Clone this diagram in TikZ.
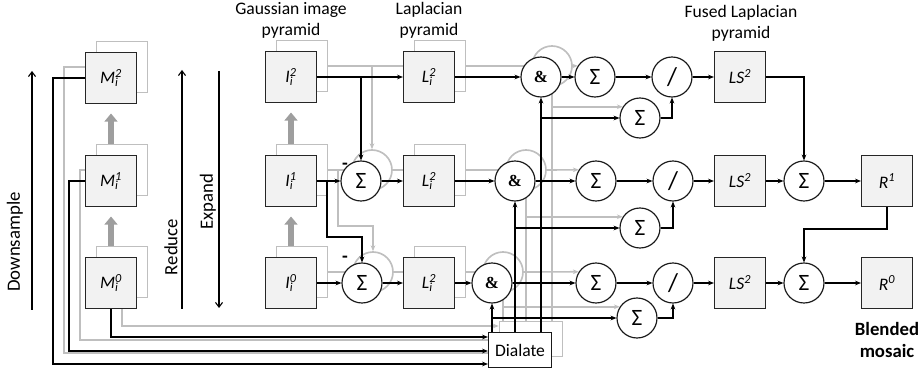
\documentclass[tikz,border=0pt]{standalone}
\usepackage{fontspec}
\setmainfont{Carlito}
\newfontfamily\ampfont{Liberation Serif}
\usetikzlibrary{arrows.meta}

\newcommand\pyr[2]{\textit{#1}\rlap{\textsubscript{\textit{i}}}\textsuperscript{\textit{#2}}}
\newcommand\sgm{{\fontsize{20}{20}\selectfont Σ}}

\tikzset{
  lbl/.style={font=\fontsize{15}{18}\selectfont, align=center},
  blk/.style={draw=black!85, fill=gray!10, line width=1pt, minimum size=1.53cm, inner sep=0pt, font=\fontsize{15}{16}\selectfont},
  op/.style={circle, draw=black!90, fill=white, line width=1pt, minimum size=1.2cm, inner sep=0pt},
  sblk/.style={draw=black!25, fill=white, line width=1.4pt, minimum size=1.53cm, inner sep=0pt},
  sop/.style={circle, draw=black!25, fill=white, line width=1.4pt, minimum size=1.2cm, inner sep=0pt},
  con/.style={line width=1pt, -{Stealth[length=5pt,width=4pt]}},
  scon/.style={draw=black!25, line width=1.4pt, -{Stealth[length=5pt,width=4pt]}},
  fat/.style={draw=black!38, line width=5pt, -{Triangle[length=7pt,width=11pt]}, shorten >=8pt},
  dirarr/.style={line width=0.9pt, -{Straight Barb[length=4pt,width=6pt]}},
}

\begin{document}
\begin{tikzpicture}[x=0.03cm,y=-0.03cm]
\useasboundingbox (0,0) rectangle (918,375);

% shadow copy (other images of the stack)
\begin{scope}[shift={(11,-11)}]
  \node[sblk] (sM2) at (111,78) {};
  \node[sblk] (sM1) at (111,181) {};
  \node[sblk] (sM0) at (111,283) {};
  \node[sblk] (sI2) at (291,77) {};
  \node[sblk] (sI1) at (291,181) {};
  \node[sblk] (sI0) at (291,283) {};
  \node[sop] (sS1) at (361,181) {};
  \node[sop] (sS0) at (362,283) {};
  \node[sblk] (sL2) at (429,77) {};
  \node[sblk] (sL1) at (429,181) {};
  \node[sblk] (sL0) at (429,283) {};
  \node[sop] (sA2) at (541,77) {};
  \node[sop] (sA1) at (515,181) {};
  \node[sop] (sA0) at (492,283) {};
  \node[sblk, minimum width=1.89cm, minimum height=1.05cm] (sDil) at (520,350) {};
  \coordinate (sj1) at (327,181);
  \draw[scon] (sI2.east) -- (sL2.west);
  \draw[scon] (sS1 |- sI2) -- (sS1.north);
  \draw[scon] (sI1.east) -- (sS1.west);
  \draw[scon] (sj1) |- (sS0.north |- 0,237) -- (sS0.north);
  \draw[scon] (sI0.east) -- (sS0.west);
  \draw[scon] (sS1.east) -- (sL1.west);
  \draw[scon] (sS0.east) -- (sL0.west);
  \draw[scon] (sL2.east) -- (sA2.west);
  \draw[scon] (sL1.east) -- (sA1.west);
  \draw[scon] (sL0.east) -- (sA0.west);
  \draw[scon] (sDil.north -| sA2.south) -- (sA2.south);
  \draw[scon] (sDil.north -| sA1.south) -- (sA1.south);
  \draw[scon] (sDil.north -| sA0.south) -- (sA0.south);
  \draw[scon] (sM2.west) -| (53,364) -- (sDil.west |- 0,364);
  \draw[scon] (sM1.west) -| (69,351) -- (sDil.west |- 0,351);
  \draw[scon] (sM0.south) |- (sDil.west |- 0,337);
\end{scope}

% titles
\node[lbl] (tG) at (291,20) {Gaussian image\\pyramid};
\node[lbl] (tL) at (429,20) {Laplacian\\pyramid};
\node[lbl] (tF) at (741,23) {Fused Laplacian\\pyramid};
\node[lbl, font=\fontsize{16}{18}\bfseries] (tB) at (887,340) {Blended\\mosaic};
\node[lbl, rotate=90, font=\fontsize{16}{18}\selectfont] (tD) at (15,242) {Downsample};
\node[lbl, rotate=90, font=\fontsize{16}{18}\selectfont] (tR) at (171,247) {Reduce};
\node[lbl, rotate=90, font=\fontsize{16}{18}\selectfont] (tE) at (208,202) {Expand};
\coordinate (ds0) at (32,310);
\coordinate (ds1) at (32,71);
\coordinate (rd0) at (182,309);
\coordinate (rd1) at (182,70);
\coordinate (ex0) at (219,71);
\coordinate (ex1) at (219,308);
\draw[dirarr] (ds0) -- (ds1);
\draw[dirarr] (rd0) -- (rd1);
\draw[dirarr] (ex0) -- (ex1);

% front pyramids
\node[blk] (M2) at (111,78) {\pyr{M}{2}};
\node[blk] (M1) at (111,181) {\pyr{M}{1}};
\node[blk] (M0) at (111,283) {\pyr{M}{0}};
\node[blk] (I2) at (291,77) {\pyr{I}{2}};
\node[blk] (I1) at (291,181) {\pyr{I}{1}};
\node[blk] (I0) at (291,283) {\pyr{I}{0}};
\node[op] (S1) at (361,181) {\sgm};
\node[op] (S0) at (362,283) {\sgm};
\node[blk] (L2) at (429,77) {\pyr{L}{2}};
\node[blk] (L1) at (429,181) {\pyr{L}{2}};
\node[blk] (L0) at (429,283) {\pyr{L}{2}};
\node[op] (A2) at (541,77) {\ampfont\bfseries\Large\&};
\node[op] (A1) at (515,181) {\ampfont\bfseries\Large\&};
\node[op] (A0) at (492,283) {\ampfont\bfseries\Large\&};
\node[op] (Q2) at (595,77) {\sgm};
\node[op] (Q1) at (596,181) {\sgm};
\node[op] (Q0) at (596,283) {\sgm};
\node[op] (W2) at (640,118) {\sgm};
\node[op] (W1) at (640,228) {\sgm};
\node[op] (W0) at (637,318) {\sgm};
\node[op] (D2) at (672,77) {\fontsize{22}{22}\selectfont /};
\node[op] (D1) at (673,181) {\fontsize{22}{22}\selectfont /};
\node[op] (D0) at (673,283) {\fontsize{22}{22}\selectfont /};
\node[blk] (LS2) at (740,77) {\textit{LS}\textsuperscript{\textit{2}}};
\node[blk] (LS1) at (740,181) {\textit{LS}\textsuperscript{\textit{2}}};
\node[blk] (LS0) at (740,283) {\textit{LS}\textsuperscript{\textit{2}}};
\node[op] (P1) at (804,181) {\sgm};
\node[op] (P0) at (804,283) {\sgm};
\node[blk] (R1) at (887,181) {\textit{R}\textsuperscript{\textit{1}}};
\node[blk] (R0) at (887,283) {\textit{R}\textsuperscript{\textit{0}}};
\node[lbl, draw=black!90, fill=white, line width=1pt, minimum width=1.89cm, minimum height=1.05cm] (Dil) at (520,350) {Dialate};
\node[lbl, font=\fontsize{16}{16}\bfseries] (m1) at (345,166) {-};
\node[lbl, font=\fontsize{16}{16}\bfseries] (m0) at (345,259) {-};

% stack arrows
\draw[fat] (M0 |- sM0.north) -- (M1.south);
\draw[fat] (M1 |- sM1.north) -- (M2.south);
\draw[fat] (I0 |- sI0.north) -- (I1.south);
\draw[fat] (I1 |- sI1.north) -- (I2.south);

% sums over the stack
\draw[scon] (sA2.east) -- (Q2.147);
\draw[scon] (sA1.east) -- (Q1.147);
\draw[scon] (sA0.east) -- (Q0.147);
\draw[scon] (sA2.south |- W2.147) -- (W2.147);
\draw[scon] (sA1.south |- W1.147) -- (W1.147);
\draw[scon] (sA0.south |- W0.147) -- (W0.147);

% front connectors
\coordinate (j1) at (327,181);
\draw[con] (I2.east) -- (L2.west);
\draw[con, line width=1.6pt] (S1 |- I2) -- (S1.north);
\draw[con] (I1.east) -- (S1.west);
\draw[con] (j1) |- (S0.north |- 0,237) -- (S0.north);
\draw[con] (I0.east) -- (S0.west);
\draw[con] (S1.east) -- (L1.west);
\draw[con] (S0.east) -- (L0.west);
\draw[con] (L2.east) -- (A2.west);
\draw[con] (L1.east) -- (A1.west);
\draw[con] (L0.east) -- (A0.west);
\draw[con, line width=1.4pt] (Dil.north -| A2.south) -- (A2.south);
\draw[con, line width=1.4pt] (Dil.north -| A1.south) -- (A1.south);
\draw[con, line width=1.4pt] (Dil.north -| A0.south) -- (A0.south);
\draw[con] (A2.south |- W2) -- (W2.west);
\draw[con] (A1.south |- W1) -- (W1.west);
\draw[con] (A0.south |- W0) -- (W0.west);
\draw[con] (A2.east) -- (Q2.west);
\draw[con] (A1.east) -- (Q1.west);
\draw[con] (A0.east) -- (Q0.west);
\draw[con] (Q2.east) -- (D2.west);
\draw[con] (Q1.east) -- (D1.west);
\draw[con] (Q0.east) -- (D0.west);
\draw[con] (W2.east) -| (D2.south);
\draw[con] (W1.east) -| (D1.south);
\draw[con] (W0.east) -| (D0.south);
\draw[con] (D2.east) -- (LS2.west);
\draw[con] (D1.east) -- (LS1.west);
\draw[con] (D0.east) -- (LS0.west);
\draw[con] (LS2.east) -| (P1.north);
\draw[con] (LS1.east) -- (P1.west);
\draw[con] (LS0.east) -- (P0.west);
\draw[con] (P1.east) -- (R1.west);
\draw[con] (P0.east) -- (R0.west);
\draw[con] (R1.south) -- (R1.south |- 0,229) -| (P0.north);
\draw[con] (M2.west) -| (53,364) -- (Dil.west |- 0,364);
\draw[con] (M1.west) -| (69,351) -- (Dil.west |- 0,351);
\draw[con] (M0.south) |- (Dil.west |- 0,337);
\end{tikzpicture}
\end{document}
